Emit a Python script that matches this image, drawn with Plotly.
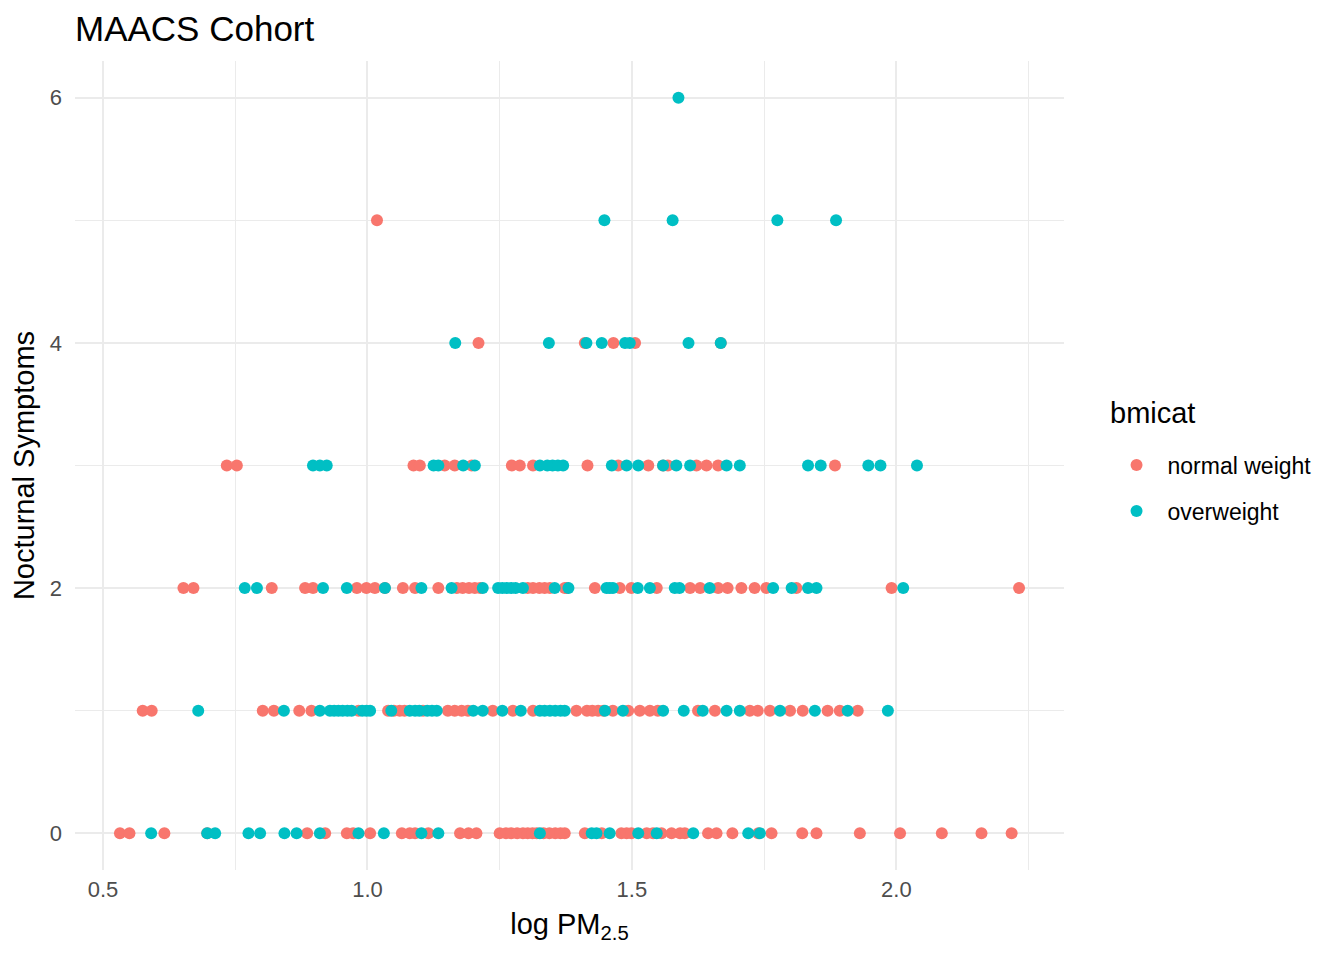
import plotly.graph_objects as go

# log PM2.5 values per number of nocturnal symptoms, split by bmicat
normal_sym0 = [0.532, 0.550, 0.616, 0.697, 0.886, 0.920, 0.961, 0.973, 1.005, 1.065,
               1.080, 1.090, 1.115, 1.175, 1.191, 1.206, 1.250, 1.262, 1.272, 1.283,
               1.294, 1.303, 1.312, 1.320, 1.333, 1.344, 1.355, 1.365, 1.373, 1.411,
               1.443, 1.480, 1.490, 1.499, 1.528, 1.540, 1.556, 1.575, 1.591, 1.600,
               1.644, 1.660, 1.690, 1.739, 1.764, 1.822, 1.849, 1.931, 2.007, 2.086,
               2.161, 2.218]
normal_sym1 = [0.575, 0.592, 0.802, 0.823, 0.871, 0.894, 0.983, 1.039, 1.050, 1.061,
               1.070, 1.105, 1.152, 1.165, 1.178, 1.190, 1.237, 1.275, 1.313, 1.395,
               1.415, 1.425, 1.436, 1.446, 1.464, 1.493, 1.515, 1.534, 1.549, 1.625,
               1.657, 1.723, 1.738, 1.761, 1.799, 1.823, 1.870, 1.893, 1.927]
normal_sym2 = [0.652, 0.671, 0.819, 0.882, 0.897, 0.980, 0.998, 1.014, 1.033, 1.067,
               1.090, 1.134, 1.169, 1.180, 1.192, 1.203, 1.213, 1.303, 1.313, 1.325,
               1.335, 1.345, 1.373, 1.377, 1.430, 1.477, 1.499, 1.547, 1.610, 1.629,
               1.663, 1.681, 1.707, 1.732, 1.754, 1.811, 1.991, 2.232]
normal_sym3 = [0.734, 0.753, 1.087, 1.099, 1.146, 1.165, 1.197, 1.273, 1.288, 1.313,
               1.416, 1.474, 1.531, 1.559, 1.568, 1.622, 1.641, 1.663, 1.884]
normal_sym4 = [1.210, 1.411, 1.465, 1.506, 1.668]
normal_sym5 = [1.018]

over_sym0 = [0.591, 0.697, 0.712, 0.775, 0.797, 0.843, 0.866, 0.910, 0.983, 1.031,
             1.102, 1.134, 1.326, 1.424, 1.433, 1.458, 1.512, 1.547, 1.616, 1.720,
             1.742]
over_sym1 = [0.680, 0.842, 0.910, 0.929, 0.937, 0.945, 0.953, 0.962, 0.970, 0.990,
             0.998, 1.005, 1.045, 1.080, 1.090, 1.098, 1.113, 1.122, 1.131, 1.200,
             1.218, 1.255, 1.290, 1.326, 1.335, 1.345, 1.355, 1.365, 1.373, 1.449,
             1.483, 1.559, 1.598, 1.634, 1.679, 1.704, 1.780, 1.846, 1.908, 1.984]
over_sym2 = [0.768, 0.791, 0.916, 0.961, 1.033, 1.102, 1.159, 1.218, 1.247, 1.255,
             1.263, 1.272, 1.280, 1.294, 1.354, 1.380, 1.452, 1.458, 1.464, 1.511,
             1.534, 1.581, 1.590, 1.647, 1.767, 1.802, 1.833, 1.849, 2.013]
over_sym3 = [0.897, 0.910, 0.923, 1.125, 1.134, 1.181, 1.203, 1.326, 1.340, 1.350,
             1.360, 1.370, 1.462, 1.490, 1.512, 1.559, 1.584, 1.610, 1.679, 1.704,
             1.833, 1.857, 1.947, 1.970, 2.039]
over_sym4 = [1.166, 1.343, 1.414, 1.443, 1.487, 1.496, 1.607, 1.668]
over_sym5 = [1.448, 1.577, 1.775, 1.886]
over_sym6 = [1.588]

normal_rows = [normal_sym0, normal_sym1, normal_sym2, normal_sym3, normal_sym4, normal_sym5]
over_rows = [over_sym0, over_sym1, over_sym2, over_sym3, over_sym4, over_sym5, over_sym6]


def flatten(rows):
    xs, ys = [], []
    for count, vals in enumerate(rows):
        xs += vals
        ys += [count] * len(vals)
    return xs, ys


nx, ny = flatten(normal_rows)
ox, oy = flatten(over_rows)

FONT = "Liberation Sans, Arial, sans-serif"
GRID = "#EBEBEB"

fig = go.Figure()
fig.add_trace(go.Scatter(
    x=nx, y=ny, mode="markers", name="normal weight", legendgroup="a",
    marker=dict(color="#F8766D", size=12)
))
fig.add_trace(go.Scatter(
    x=ox, y=oy, mode="markers", name="overweight", legendgroup="b",
    marker=dict(color="#00BFC4", size=12)
))

# legend title as an annotation so it sits higher above the keys, like ggplot
fig.add_annotation(
    text="bmicat", xref="paper", yref="paper", x=1.0445, y=0.565,
    xanchor="left", yanchor="middle", showarrow=False,
    font=dict(size=29, color="black")
)

# page body adds an 8px offset, so the figure is sized and margined around it
fig.update_layout(
    width=1336, height=952,
    plot_bgcolor="white", paper_bgcolor="white",
    margin=dict(l=67, r=280, t=53, b=90),
    font=dict(family=FONT, color="black"),
    title=dict(text="MAACS Cohort", x=0, xref="paper", xanchor="left",
               y=1 - 21 / 952, yref="container", yanchor="middle",
               font=dict(size=35, color="black")),
    legend=dict(
        font=dict(size=23), x=1.042, xanchor="left", y=0.472, yanchor="middle",
        tracegroupgap=13, itemsizing="constant", itemwidth=52
    ),
    xaxis=dict(
        range=[0.447, 2.317], tickvals=[0.5, 1.0, 1.5, 2.0],
        ticktext=["0.5", "1.0", "1.5", "2.0"],
        showgrid=True, gridcolor=GRID, gridwidth=2.2, zeroline=False,
        showline=False, ticks="", ticklabelstandoff=4,
        tickfont=dict(size=22, color="#4D4D4D"),
        minor=dict(tickvals=[0.75, 1.25, 1.75, 2.25], showgrid=True, gridcolor=GRID, gridwidth=1.1),
        title=dict(text="log PM<sub>2.5</sub>", font=dict(size=29), standoff=12)
    ),
    yaxis=dict(
        range=[-0.3, 6.3], tickvals=[0, 2, 4, 6],
        showgrid=True, gridcolor=GRID, gridwidth=2.2, zeroline=False,
        showline=False, ticks="", ticklabelstandoff=12,
        tickfont=dict(size=22, color="#4D4D4D"),
        minor=dict(tickvals=[1, 3, 5], showgrid=True, gridcolor=GRID, gridwidth=1.1),
        title=dict(text="Nocturnal Symptoms", font=dict(size=29), standoff=8)
    ),
)

fig.write_html("out.html")
